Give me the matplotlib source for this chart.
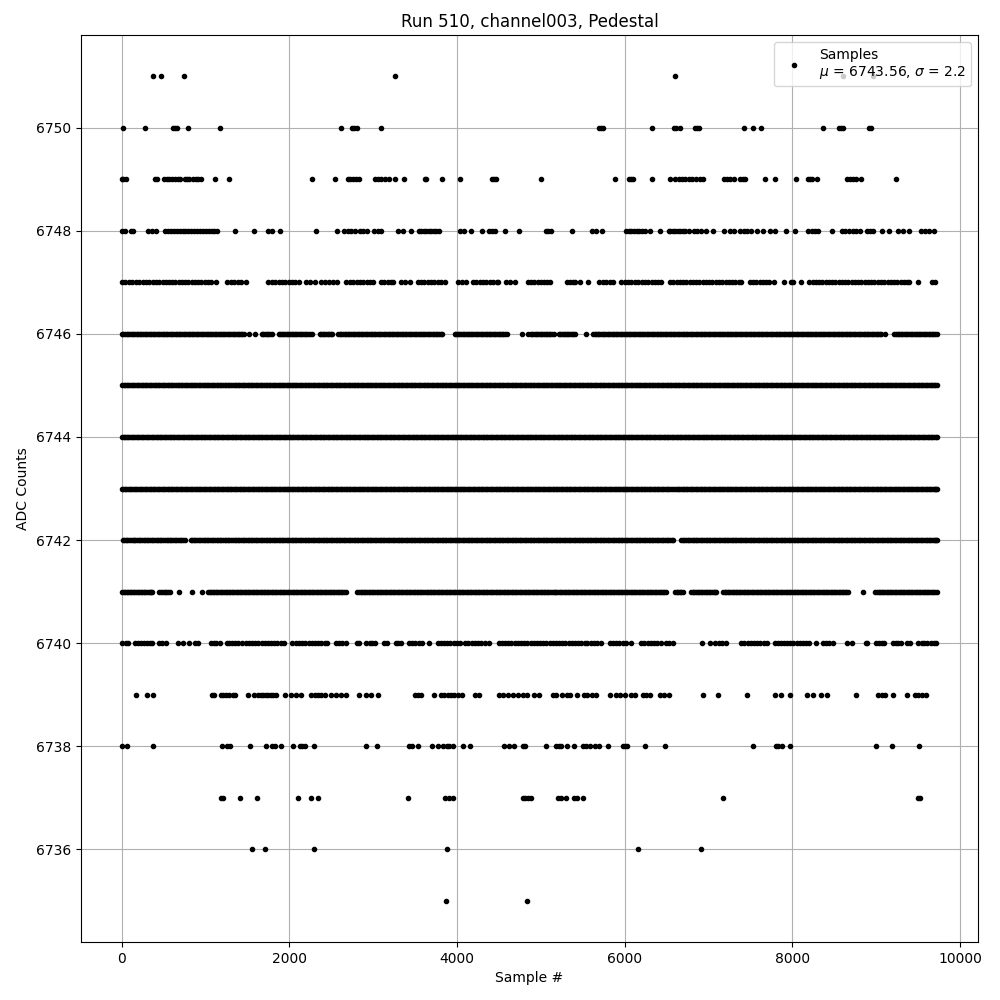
import numpy as np
import matplotlib
matplotlib.use("Agg")
import matplotlib.pyplot as plt

samples_6735 = [3865, 4829]
samples_6736 = [1555, 1710, 2294, 3877, 6155, 6905]
samples_6737 = [1178, 1210, 1413, 1615, 2103, 2258, 2341, 3412, 3853, 3908, 3948, 4781, 4813, 4849, 4887,
                5202, 5242, 5302, 5393, 5425, 5500, 7167, 9496, 9520]
samples_6738 = [5, 67, 377, 1194, 1258, 1290, 1532, 1718, 1786, 1833, 1900, 2044, 2123, 2155, 2182, 2294, 2913, 3043,
                3432, 3464, 3539, 3698, 3774, 3837, 3877, 3908, 3948, 4067, 4150, 4555, 4623, 4682, 4781, 4813,
                5056, 5179, 5214, 5242, 5314, 5393, 5500, 5532, 5591, 5639, 5690, 5798, 5976, 6008, 6028, 6238, 6476,
                7524, 7806, 7833, 7881, 7968, 9000, 9190, 9512]
samples_6739 = [167, 302, 369, 1071, 1099, 1178, 1205, 1242, 1282, 1321, 1349, 1508, 1575, 1627, 1660, 1686, 1716, 1746, 1775, 1805, 1845,
                1952, 2024, 2083, 2143, 2262, 2301, 2341, 2381, 2428, 2500, 2559, 2619, 2674, 2833, 2917, 2976, 3055,
                3492, 3531, 3571, 3722, 3809, 3849, 3889, 3928, 3968, 4008, 4059, 4218, 4258, 4504, 4551, 4603, 4662,
                4722, 4781, 4829, 4917, 4976, 5147, 5175, 5254, 5314, 5345, 5425, 5512, 5552, 5611, 5659, 5821,
                5901, 5948, 6000, 6079, 6127, 6214, 6254, 6305, 6425, 6464, 6532, 6929, 7107, 7452, 7794, 7861, 7976,
                8178, 8250, 8337, 8409, 8762, 9024, 9063, 9107, 9202, 9369, 9460, 9500, 9547, 9599]
samples_6740 = [8, 45, 75, 160, 195, 232, 270, 305, 340, 365, 445, 482, 525, 675, 726, 806, 878, 915, 1060, 1098, 1120, 1171,
                1250, 1285, 1320, 1355, 1385, 1440, 1480, 1515, 1555, 1590, 1630, 1668, 1705, 1745, 1780, 1820, 1855, 1895, 1935,
                2036, 2075, 2110, 2150, 2188, 2230, 2265, 2305, 2340, 2380, 2420, 2450, 2552, 2590, 2630, 2670, 2810, 2830,
                2917, 2955, 2990, 3025, 3127, 3168, 3266, 3300, 3325, 3424, 3462, 3500, 3540, 3582, 3670,
                3770, 3806, 3845, 3880, 3920, 3958, 3995, 4040, 4099, 4135, 4175, 4212, 4250, 4290, 4330, 4375,
                4496, 4535, 4570, 4610, 4648, 4685, 4725, 4760, 4800, 4835, 4877, 4915, 4950, 4990, 5030, 5065, 5105, 5140,
                5180, 5215, 5255, 5290, 5330, 5370, 5405, 5445, 5480, 5520, 5555, 5595, 5632, 5670, 5720, 5820, 5860, 5900,
                5935, 5975, 6020, 6079, 6198, 6235, 6275, 6312, 6350, 6390, 6434, 6488, 6525, 6572, 6921, 7012, 7079, 7118,
                7155, 7208, 7389, 7425, 7465, 7500, 7540, 7578, 7615, 7655, 7702, 7786, 7825, 7860, 7900, 7935, 7975, 8012,
                8050, 8090, 8125, 8160, 8192, 8278, 8361, 8400, 8440, 8478, 8647, 8714, 8877, 8895, 8996, 9035, 9070, 9093,
                9194, 9230, 9265, 9291, 9365, 9399, 9500, 9540, 9575, 9610, 9650, 9685, 9716]
samples_6741 = [3, 40, 78, 115, 150, 190, 228, 262, 300, 338, 365, 450, 490, 530, 570, 686, 837, 952, 1030, 1065, 1105, 1140,
                1180, 1220, 1255, 1295, 1330, 1370, 1410, 1445, 1485, 1520, 1560, 1600, 1635, 1675, 1712, 1750, 1790, 1825,
                1865, 1905, 1940, 1980, 2020, 2055, 2095, 2135, 2170, 2210, 2250, 2285, 2325, 2365, 2400, 2440, 2478, 2515,
                2555, 2595, 2630, 2680, 2810, 2850, 2885, 2925, 2965, 3000, 3040, 3080, 3115, 3155, 3195, 3230, 3270, 3310,
                3345, 3385, 3425, 3460, 3500, 3538, 3575, 3615, 3655, 3690, 3730, 3770, 3805, 3845, 3885, 3920, 3960, 4000,
                4035, 4075, 4115, 4150, 4190, 4230, 4265, 4305, 4345, 4380, 4420, 4460, 4495, 4535, 4575, 4610, 4650, 4690,
                4725, 4765, 4805, 4840, 4880, 4918, 4955, 4995, 5033, 5070, 5110, 5150, 5185, 5225, 5265, 5300, 5340, 5380,
                5415, 5455, 5495, 5530, 5570, 5610, 5645, 5685, 5725, 5760, 5800, 5838, 5875, 5915, 5955, 5990, 6030, 6070,
                6105, 6145, 6185, 6220, 6260, 6300, 6335, 6375, 6415, 6450, 6490, 6600, 6640, 6675, 6700, 6790, 6828, 6868,
                6905, 6945, 6985, 7020, 7060, 7090, 7170, 7208, 7245, 7285, 7325, 7360, 7400, 7440, 7475, 7515, 7555, 7590,
                7630, 7670, 7705, 7745, 7785, 7820, 7860, 7900, 7935, 7975, 8015, 8050, 8090, 8130, 8165, 8205, 8245, 8280,
                8320, 8360, 8395, 8435, 8475, 8510, 8550, 8590, 8625, 8660, 8837, 8990, 9030, 9065, 9105, 9145, 9180, 9220,
                9260, 9295, 9335, 9375, 9410, 9450, 9490, 9525, 9565, 9605, 9640, 9680, 9722]
samples_6741_more = [22, 60, 96, 132, 170, 210, 245, 282, 320, 352, 470, 510, 550, 1048, 1085, 1122, 1160, 1200, 1238, 1275, 1312,
                     1350, 1390, 1428, 1465, 1502, 1540, 1580, 1618, 1655, 1694, 1730, 1770, 1808, 1845, 1885, 1922, 1960, 2000,
                     2038, 2075, 2115, 2152, 2190, 2230, 2268, 2305, 2345, 2382, 2420, 2460, 2496, 2535, 2575, 2612, 2655,
                     2830, 2868, 2905, 2945, 2982, 3020, 3060, 3098, 3135, 3175, 3212, 3250, 3290, 3328, 3365, 3405, 3442, 3480,
                     3520, 3556, 3595, 3635, 3672, 3710, 3750, 3788, 3825, 3865, 3902, 3940, 3980, 4018, 4055, 4095, 4132, 4170,
                     4210, 4248, 4285, 4325, 4362, 4400, 4440, 4478, 4515, 4555, 4592, 4630, 4670, 4708, 4745, 4785, 4822, 4860,
                     4900, 4936, 4975, 5015, 5052, 5090, 5130, 5168, 5205, 5245, 5282, 5320, 5360, 5398, 5435, 5475, 5512, 5550,
                     5590, 5628, 5665, 5705, 5742, 5780, 5820, 5856, 5895, 5935, 5972, 6010, 6050, 6088, 6125, 6165, 6202, 6240,
                     6280, 6318, 6355, 6395, 6432, 6470, 6620, 6658, 6810, 6848, 6886, 6925, 6965, 7002, 7040, 7076, 7190, 7226,
                     7265, 7305, 7342, 7380, 7420, 7458, 7495, 7535, 7572, 7610, 7650, 7688, 7725, 7765, 7802, 7840, 7880, 7918,
                     7955, 7995, 8032, 8070, 8110, 8148, 8185, 8225, 8262, 8300, 8340, 8378, 8415, 8455, 8492, 8530, 8570, 8608,
                     8642, 9010, 9048, 9085, 9125, 9162, 9200, 9240, 9278, 9315, 9355, 9392, 9430, 9470, 9508, 9545, 9585, 9622,
                     9660, 9700]
samples_6742 = [12, 50, 85, 128, 162, 204, 240, 281, 318, 360, 395, 438, 472, 515, 552, 590, 632, 668, 710, 750, 820, 858,
                895, 938, 975, 1014, 1052, 1092, 1130, 1170, 1208, 1248, 1285, 1325, 1365, 1402, 1442, 1480, 1520, 1558, 1598,
                1635, 1675, 1715, 1752, 1792, 1830, 1870, 1908, 1948, 1985, 2025, 2065, 2102, 2142, 2180, 2220, 2258, 2298,
                2335, 2375, 2415, 2452, 2492, 2530, 2570, 2608, 2648, 2685, 2725, 2765, 2802, 2842, 2880, 2920, 2958, 2998,
                3035, 3075, 3115, 3152, 3192, 3230, 3270, 3308, 3348, 3385, 3425, 3465, 3502, 3542, 3580, 3620, 3658, 3698,
                3735, 3775, 3815, 3852, 3892, 3930, 3970, 4008, 4048, 4085, 4125, 4165, 4202, 4242, 4280, 4320, 4358, 4398,
                4435, 4475, 4515, 4552, 4592, 4630, 4670, 4708, 4748, 4785, 4825, 4865, 4902, 4942, 4980, 5020, 5058, 5098,
                5135, 5175, 5215, 5252, 5292, 5330, 5370, 5408, 5448, 5485, 5525, 5565, 5602, 5642, 5680, 5720, 5758, 5798,
                5835, 5875, 5915, 5952, 5992, 6030, 6070, 6108, 6148, 6185, 6225, 6265, 6302, 6342, 6380, 6420, 6458, 6498,
                6540, 6580, 6672, 6710, 6750, 6788, 6828, 6865, 6905, 6945, 6982, 7022, 7060, 7100, 7138, 7178, 7215, 7255,
                7295, 7332, 7372, 7410, 7450, 7488, 7528, 7565, 7605, 7645, 7682, 7722, 7760, 7800, 7838, 7878, 7915, 7955,
                7995, 8032, 8072, 8110, 8150, 8188, 8228, 8265, 8305, 8345, 8382, 8422, 8460, 8500, 8538, 8578, 8615, 8655,
                8695, 8732, 8772, 8810, 8850, 8888, 8928, 8965, 9005, 9045, 9082, 9122, 9160, 9200, 9238, 9278, 9315, 9355,
                9395, 9432, 9472, 9510, 9550, 9588, 9628, 9665, 9705, 9725]
samples_6742_more = [30, 68, 106, 145, 183, 222, 260, 300, 338, 378, 416, 455, 494, 534, 571, 611, 650, 689, 730, 838, 876, 916,
                     956, 994, 1033, 1072, 1111, 1150, 1189, 1228, 1266, 1305, 1345, 1383, 1422, 1461, 1500, 1539, 1578, 1616, 1655,
                     1695, 1733, 1772, 1811, 1850, 1889, 1928, 1966, 2005, 2045, 2083, 2122, 2161, 2200, 2239, 2278, 2316, 2355,
                     2395, 2433, 2472, 2511, 2550, 2589, 2628, 2666, 2705, 2745, 2783, 2822, 2861, 2900, 2939, 2978, 3016, 3055,
                     3095, 3133, 3172, 3211, 3250, 3289, 3328, 3366, 3405, 3445, 3483, 3522, 3561, 3600, 3639, 3678, 3716, 3755,
                     3795, 3833, 3872, 3911, 3950, 3989, 4028, 4066, 4105, 4145, 4183, 4222, 4261, 4300, 4339, 4378, 4416, 4455,
                     4495, 4533, 4572, 4611, 4650, 4689, 4728, 4766, 4805, 4845, 4883, 4922, 4961, 5000, 5039, 5078, 5116, 5155,
                     5195, 5233, 5272, 5311, 5350, 5389, 5428, 5466, 5505, 5545, 5583, 5622, 5661, 5700, 5739, 5778, 5816, 5855,
                     5895, 5933, 5972, 6011, 6050, 6089, 6128, 6166, 6205, 6245, 6283, 6322, 6361, 6400, 6439, 6478, 6519, 6560,
                     6690, 6730, 6769, 6808, 6846, 6885, 6925, 6963, 7002, 7041, 7080, 7119, 7158, 7196, 7235, 7275, 7313, 7352,
                     7391, 7430, 7469, 7508, 7546, 7585, 7625, 7663, 7702, 7741, 7780, 7819, 7858, 7896, 7935, 7975, 8013, 8052,
                     8091, 8130, 8169, 8208, 8246, 8285, 8325, 8363, 8402, 8441, 8480, 8519, 8558, 8596, 8635, 8675, 8713, 8752,
                     8791, 8830, 8869, 8908, 8946, 8985, 9025, 9063, 9102, 9141, 9180, 9219, 9258, 9296, 9335, 9375, 9413, 9452,
                     9491, 9530, 9569, 9608, 9646, 9685, 9716]
samples_6743 = [0, 36, 78, 112, 156, 192, 232, 275, 310, 352, 390, 428, 468, 505, 548, 585, 625, 662, 705, 742, 780, 822,
                860, 900, 938, 978, 1015, 1055, 1095, 1132, 1172, 1210, 1250, 1288, 1328, 1365, 1405, 1445, 1482, 1522, 1560,
                1600, 1638, 1678, 1715, 1755, 1795, 1832, 1872, 1910, 1950, 1988, 2028, 2065, 2105, 2145, 2182, 2222, 2260,
                2300, 2338, 2378, 2415, 2455, 2495, 2532, 2572, 2610, 2650, 2688, 2728, 2765, 2805, 2845, 2882, 2922, 2960,
                3000, 3038, 3078, 3115, 3155, 3195, 3232, 3272, 3310, 3350, 3388, 3428, 3465, 3505, 3545, 3582, 3622, 3660,
                3700, 3738, 3778, 3815, 3855, 3895, 3932, 3972, 4010, 4050, 4088, 4128, 4165, 4205, 4245, 4282, 4322, 4360,
                4400, 4438, 4478, 4515, 4555, 4595, 4632, 4672, 4710, 4750, 4788, 4828, 4865, 4905, 4945, 4982, 5022, 5060,
                5100, 5138, 5178, 5215, 5255, 5295, 5332, 5372, 5410, 5450, 5488, 5528, 5565, 5605, 5645, 5682, 5722, 5760,
                5800, 5838, 5878, 5915, 5955, 5995, 6032, 6072, 6110, 6150, 6188, 6228, 6265, 6305, 6345, 6382, 6422, 6460,
                6500, 6538, 6590, 6632, 6670, 6710, 6748, 6788, 6825, 6865, 6905, 6942, 6982, 7020, 7060, 7098, 7138, 7175,
                7215, 7255, 7292, 7332, 7370, 7410, 7448, 7488, 7525, 7565, 7605, 7642, 7682, 7720, 7760, 7798, 7838, 7875,
                7915, 7955, 7992, 8032, 8070, 8110, 8148, 8188, 8225, 8265, 8305, 8342, 8382, 8420, 8460, 8498, 8538, 8575,
                8615, 8655, 8692, 8732, 8770, 8810, 8848, 8888, 8925, 8965, 9005, 9042, 9082, 9120, 9160, 9198, 9238, 9275,
                9315, 9355, 9392, 9432, 9470, 9510, 9548, 9588, 9625, 9665, 9700, 9727]
samples_6743_more = [18, 56, 95, 134, 174, 212, 253, 292, 331, 371, 409, 448, 486, 526, 566, 605, 644, 683, 723, 761, 801, 841,
                     880, 919, 958, 996, 1035, 1075, 1113, 1152, 1191, 1230, 1269, 1308, 1346, 1385, 1425, 1463, 1502, 1541, 1580,
                     1619, 1658, 1696, 1735, 1775, 1813, 1852, 1891, 1930, 1969, 2008, 2046, 2085, 2125, 2163, 2202, 2241, 2280,
                     2319, 2358, 2396, 2435, 2475, 2513, 2552, 2591, 2630, 2669, 2708, 2746, 2785, 2825, 2863, 2902, 2941, 2980,
                     3019, 3058, 3096, 3135, 3175, 3213, 3252, 3291, 3330, 3369, 3408, 3446, 3485, 3525, 3563, 3602, 3641, 3680,
                     3719, 3758, 3796, 3835, 3875, 3913, 3952, 3991, 4030, 4069, 4108, 4146, 4185, 4225, 4263, 4302, 4341, 4380,
                     4419, 4458, 4496, 4535, 4575, 4613, 4652, 4691, 4730, 4769, 4808, 4846, 4885, 4925, 4963, 5002, 5041, 5080,
                     5119, 5158, 5196, 5235, 5275, 5313, 5352, 5391, 5430, 5469, 5508, 5546, 5585, 5625, 5663, 5702, 5741, 5780,
                     5819, 5858, 5896, 5935, 5975, 6013, 6052, 6091, 6130, 6169, 6208, 6246, 6285, 6325, 6363, 6402, 6441, 6480,
                     6519, 6560, 6611, 6651, 6690, 6729, 6768, 6806, 6845, 6885, 6923, 6962, 7001, 7040, 7079, 7118, 7156, 7195,
                     7235, 7273, 7312, 7351, 7390, 7429, 7468, 7506, 7545, 7585, 7623, 7662, 7701, 7740, 7779, 7818, 7856, 7895,
                     7935, 7973, 8012, 8051, 8090, 8129, 8168, 8206, 8245, 8285, 8323, 8362, 8401, 8440, 8479, 8518, 8556, 8595,
                     8635, 8673, 8712, 8751, 8790, 8829, 8868, 8906, 8945, 8985, 9023, 9062, 9101, 9140, 9179, 9218, 9256, 9295,
                     9335, 9373, 9412, 9451, 9490, 9529, 9568, 9606, 9645, 9683, 9714]
samples_6744 = [2, 42, 80, 118, 160, 197, 238, 280, 316, 355, 395, 436, 472, 512, 550, 590, 628, 668, 705, 745, 785, 822,
                862, 900, 940, 978, 1018, 1055, 1095, 1135, 1172, 1212, 1250, 1290, 1328, 1368, 1405, 1445, 1485, 1522, 1562,
                1600, 1640, 1678, 1718, 1755, 1795, 1835, 1872, 1912, 1950, 1990, 2028, 2068, 2105, 2145, 2185, 2222, 2262,
                2300, 2340, 2378, 2418, 2455, 2495, 2535, 2572, 2612, 2650, 2690, 2728, 2768, 2805, 2845, 2885, 2922, 2962,
                3000, 3040, 3078, 3118, 3155, 3195, 3235, 3272, 3312, 3350, 3390, 3428, 3468, 3505, 3545, 3585, 3622, 3662,
                3700, 3740, 3778, 3818, 3855, 3895, 3935, 3972, 4012, 4050, 4090, 4128, 4168, 4205, 4245, 4285, 4322, 4362,
                4400, 4440, 4478, 4518, 4555, 4595, 4635, 4672, 4712, 4750, 4790, 4828, 4868, 4905, 4945, 4985, 5022, 5062,
                5100, 5140, 5178, 5218, 5255, 5295, 5335, 5372, 5412, 5450, 5490, 5528, 5568, 5605, 5645, 5685, 5722, 5762,
                5800, 5840, 5878, 5918, 5955, 5995, 6035, 6072, 6112, 6150, 6190, 6228, 6268, 6305, 6345, 6385, 6422, 6462,
                6500, 6540, 6578, 6618, 6655, 6695, 6735, 6772, 6812, 6850, 6890, 6928, 6968, 7005, 7045, 7085, 7122, 7162,
                7200, 7240, 7278, 7318, 7355, 7395, 7435, 7472, 7512, 7550, 7590, 7628, 7668, 7705, 7745, 7785, 7822, 7862,
                7900, 7940, 7978, 8018, 8055, 8095, 8135, 8172, 8212, 8250, 8290, 8328, 8368, 8405, 8445, 8485, 8522, 8562,
                8600, 8640, 8678, 8718, 8755, 8795, 8835, 8872, 8912, 8950, 8990, 9028, 9068, 9105, 9145, 9185, 9222, 9262,
                9300, 9340, 9378, 9418, 9455, 9495, 9535, 9572, 9612, 9650, 9690, 9726]
samples_6744_more = [22, 61, 99, 139, 178, 218, 259, 298, 336, 375, 415, 454, 492, 531, 570, 609, 648, 686, 725, 765, 803, 842,
                     881, 920, 959, 998, 1036, 1075, 1115, 1153, 1192, 1231, 1270, 1309, 1348, 1386, 1425, 1465, 1503, 1542, 1581,
                     1620, 1659, 1698, 1736, 1775, 1815, 1853, 1892, 1931, 1970, 2009, 2048, 2086, 2125, 2165, 2203, 2242, 2281,
                     2320, 2359, 2398, 2436, 2475, 2515, 2553, 2592, 2631, 2670, 2709, 2748, 2786, 2825, 2865, 2903, 2942, 2981,
                     3020, 3059, 3098, 3136, 3175, 3215, 3253, 3292, 3331, 3370, 3409, 3448, 3486, 3525, 3565, 3603, 3642, 3681,
                     3720, 3759, 3798, 3836, 3875, 3915, 3953, 3992, 4031, 4070, 4109, 4148, 4186, 4225, 4265, 4303, 4342, 4381,
                     4420, 4459, 4498, 4536, 4575, 4615, 4653, 4692, 4731, 4770, 4809, 4848, 4886, 4925, 4965, 5003, 5042, 5081,
                     5120, 5159, 5198, 5236, 5275, 5315, 5353, 5392, 5431, 5470, 5509, 5548, 5586, 5625, 5665, 5703, 5742, 5781,
                     5820, 5859, 5898, 5936, 5975, 6015, 6053, 6092, 6131, 6170, 6209, 6248, 6286, 6325, 6365, 6403, 6442, 6481,
                     6520, 6559, 6598, 6636, 6675, 6715, 6753, 6792, 6831, 6870, 6909, 6948, 6986, 7025, 7065, 7103, 7142, 7181,
                     7220, 7259, 7298, 7336, 7375, 7415, 7453, 7492, 7531, 7570, 7609, 7648, 7686, 7725, 7765, 7803, 7842, 7881,
                     7920, 7959, 7998, 8036, 8075, 8115, 8153, 8192, 8231, 8270, 8309, 8348, 8386, 8425, 8465, 8503, 8542, 8581,
                     8620, 8659, 8698, 8736, 8775, 8815, 8853, 8892, 8931, 8970, 9009, 9048, 9086, 9125, 9165, 9203, 9242, 9281,
                     9320, 9359, 9398, 9436, 9475, 9515, 9553, 9592, 9631, 9670, 9708]
samples_6745 = [4, 40, 76, 120, 158, 194, 236, 272, 315, 352, 392, 430, 470, 508, 548, 585, 625, 665, 702, 742, 780, 820,
                858, 898, 935, 975, 1015, 1052, 1092, 1130, 1170, 1208, 1248, 1285, 1325, 1365, 1402, 1442, 1480, 1520, 1558,
                1598, 1635, 1675, 1715, 1752, 1792, 1830, 1870, 1908, 1948, 1985, 2025, 2065, 2102, 2142, 2180, 2220, 2258,
                2298, 2335, 2375, 2415, 2452, 2492, 2530, 2570, 2608, 2648, 2685, 2725, 2765, 2802, 2842, 2880, 2920, 2958,
                2998, 3035, 3075, 3115, 3152, 3192, 3230, 3270, 3308, 3348, 3385, 3425, 3465, 3502, 3542, 3580, 3620, 3658,
                3698, 3735, 3775, 3815, 3852, 3892, 3930, 3970, 4008, 4048, 4085, 4125, 4165, 4202, 4242, 4280, 4320, 4358,
                4398, 4435, 4475, 4515, 4552, 4592, 4630, 4670, 4708, 4748, 4785, 4825, 4865, 4902, 4942, 4980, 5020, 5058,
                5098, 5135, 5175, 5215, 5252, 5292, 5330, 5370, 5408, 5448, 5485, 5525, 5565, 5602, 5642, 5680, 5720, 5758,
                5798, 5835, 5875, 5915, 5952, 5992, 6030, 6070, 6108, 6148, 6185, 6225, 6265, 6302, 6342, 6380, 6420, 6458,
                6498, 6535, 6575, 6615, 6652, 6692, 6730, 6770, 6808, 6848, 6885, 6925, 6965, 7002, 7042, 7080, 7120, 7158,
                7198, 7235, 7275, 7315, 7352, 7392, 7430, 7470, 7508, 7548, 7585, 7625, 7665, 7702, 7742, 7780, 7820, 7858,
                7898, 7935, 7975, 8015, 8052, 8092, 8130, 8170, 8208, 8248, 8285, 8325, 8365, 8402, 8442, 8480, 8520, 8558,
                8598, 8635, 8675, 8715, 8752, 8792, 8830, 8870, 8908, 8948, 8985, 9025, 9065, 9102, 9142, 9180, 9220, 9258,
                9298, 9335, 9375, 9415, 9452, 9492, 9530, 9570, 9608, 9648, 9685, 9724]
samples_6745_more = [21, 58, 98, 138, 176, 215, 254, 294, 334, 372, 411, 450, 489, 528, 566, 605, 645, 684, 722, 761, 800, 839,
                     878, 917, 955, 995, 1033, 1072, 1111, 1150, 1189, 1228, 1266, 1305, 1345, 1383, 1422, 1461, 1500, 1539, 1578,
                     1616, 1655, 1695, 1733, 1772, 1811, 1850, 1889, 1928, 1966, 2005, 2045, 2083, 2122, 2161, 2200, 2239, 2278,
                     2316, 2355, 2395, 2433, 2472, 2511, 2550, 2589, 2628, 2666, 2705, 2745, 2783, 2822, 2861, 2900, 2939, 2978,
                     3016, 3055, 3095, 3133, 3172, 3211, 3250, 3289, 3328, 3366, 3405, 3445, 3483, 3522, 3561, 3600, 3639, 3678,
                     3716, 3755, 3795, 3833, 3872, 3911, 3950, 3989, 4028, 4066, 4105, 4145, 4183, 4222, 4261, 4300, 4339, 4378,
                     4416, 4455, 4495, 4533, 4572, 4611, 4650, 4689, 4728, 4766, 4805, 4845, 4883, 4922, 4961, 5000, 5039, 5078,
                     5116, 5155, 5195, 5233, 5272, 5311, 5350, 5389, 5428, 5466, 5505, 5545, 5583, 5622, 5661, 5700, 5739, 5778,
                     5816, 5855, 5895, 5933, 5972, 6011, 6050, 6089, 6128, 6166, 6205, 6245, 6283, 6322, 6361, 6400, 6439, 6478,
                     6516, 6555, 6595, 6633, 6672, 6711, 6750, 6789, 6828, 6866, 6905, 6945, 6983, 7022, 7061, 7100, 7139, 7178,
                     7216, 7255, 7295, 7333, 7372, 7411, 7450, 7489, 7528, 7566, 7605, 7645, 7683, 7722, 7761, 7800, 7839, 7878,
                     7916, 7955, 7995, 8033, 8072, 8111, 8150, 8189, 8228, 8266, 8305, 8345, 8383, 8422, 8461, 8500, 8539, 8578,
                     8616, 8655, 8695, 8733, 8772, 8811, 8850, 8889, 8928, 8966, 9005, 9045, 9083, 9122, 9161, 9200, 9239, 9278,
                     9316, 9355, 9395, 9433, 9472, 9511, 9550, 9589, 9628, 9666, 9705]
samples_6746 = [0, 38, 80, 118, 156, 196, 235, 272, 312, 350, 390, 428, 468, 505, 545, 585, 622, 662, 700, 740, 778, 818,
                855, 895, 935, 972, 1012, 1050, 1090, 1128, 1168, 1205, 1245, 1285, 1322, 1362, 1400, 1440, 1460, 1520, 1590,
                1670, 1710, 1750, 1790, 1870, 1908, 1948, 1985, 2025, 2065, 2102, 2142, 2180, 2220, 2270, 2360, 2398, 2438,
                2475, 2510, 2580, 2618, 2658, 2695, 2735, 2775, 2812, 2852, 2890, 2930, 2968, 3008, 3045, 3085, 3125, 3162,
                3202, 3240, 3280, 3318, 3358, 3395, 3435, 3475, 3512, 3552, 3590, 3630, 3668, 3708, 3745, 3785, 3820, 3970,
                4008, 4048, 4085, 4125, 4165, 4202, 4242, 4280, 4320, 4358, 4398, 4435, 4475, 4515, 4552, 4600, 4770, 4840,
                4880, 4918, 4958, 4995, 5035, 5075, 5112, 5155, 5210, 5250, 5290, 5325, 5365, 5410, 5540, 5620, 5660, 5698,
                5738, 5775, 5815, 5855, 5892, 5932, 5970, 6010, 6048, 6088, 6125, 6165, 6205, 6242, 6282, 6320, 6360, 6398,
                6438, 6475, 6515, 6555, 6592, 6632, 6670, 6710, 6748, 6788, 6825, 6865, 6905, 6942, 6982, 7020, 7060, 7098,
                7138, 7175, 7215, 7255, 7292, 7332, 7370, 7410, 7448, 7488, 7525, 7565, 7605, 7642, 7682, 7720, 7760, 7798,
                7838, 7875, 7915, 7955, 7992, 8032, 8070, 8110, 8148, 8188, 8225, 8265, 8305, 8342, 8382, 8420, 8460, 8498,
                8538, 8575, 8615, 8655, 8692, 8732, 8770, 8810, 8848, 8888, 8925, 8965, 9005, 9042, 9100, 9215, 9255, 9292,
                9332, 9370, 9410, 9448, 9488, 9525, 9565, 9605, 9642, 9682, 9720]
samples_6746_more = [19, 59, 99, 137, 176, 215, 254, 292, 331, 370, 409, 448, 486, 525, 565, 604, 642, 681, 720, 759, 798, 836,
                     875, 915, 953, 992, 1031, 1070, 1109, 1148, 1186, 1225, 1265, 1303, 1342, 1381, 1420, 1690, 1730, 1770, 1889,
                     1928, 1966, 2005, 2045, 2083, 2122, 2161, 2200, 2245, 2379, 2418, 2456, 2492, 2599, 2638, 2676, 2715, 2755,
                     2793, 2832, 2871, 2910, 2949, 2988, 3026, 3065, 3105, 3143, 3182, 3221, 3260, 3299, 3338, 3376, 3415, 3455,
                     3493, 3532, 3571, 3610, 3649, 3688, 3726, 3765, 3802, 3989, 4028, 4066, 4105, 4145, 4183, 4222, 4261, 4300,
                     4339, 4378, 4416, 4455, 4495, 4533, 4575, 4898, 4938, 4976, 5015, 5055, 5093, 5134, 5230, 5270, 5307, 5345,
                     5388, 5640, 5679, 5718, 5756, 5795, 5835, 5873, 5912, 5951, 5990, 6029, 6068, 6106, 6145, 6185, 6223, 6262,
                     6301, 6340, 6379, 6418, 6456, 6495, 6535, 6573, 6612, 6651, 6690, 6729, 6768, 6806, 6845, 6885, 6923, 6962,
                     7001, 7040, 7079, 7118, 7156, 7195, 7235, 7273, 7312, 7351, 7390, 7429, 7468, 7506, 7545, 7585, 7623, 7662,
                     7701, 7740, 7779, 7818, 7856, 7895, 7935, 7973, 8012, 8051, 8090, 8129, 8168, 8206, 8245, 8285, 8323, 8362,
                     8401, 8440, 8479, 8518, 8556, 8595, 8635, 8673, 8712, 8751, 8790, 8829, 8868, 8906, 8945, 8985, 9023, 9062,
                     9235, 9273, 9312, 9351, 9390, 9429, 9468, 9506, 9545, 9585, 9623, 9662, 9700]
samples_6747 = [3, 44, 82, 125, 170, 205, 250, 290, 330, 370, 410, 450, 488, 525, 565, 600, 640, 680, 718, 755, 795, 835,
                872, 912, 950, 990, 1030, 1070, 1120, 1260, 1300, 1340, 1385, 1425, 1480, 1750, 1790, 1830, 1870, 1910, 1950,
                1990, 2030, 2070, 2110, 2200, 2250, 2310, 2380, 2425, 2475, 2520, 2570, 2680, 2720, 2760, 2800, 2840, 2880,
                2920, 2960, 3000, 3090, 3130, 3175, 3210, 3240, 3330, 3375, 3440, 3530, 3570, 3610, 3650, 3690, 3730, 3770,
                3810, 3850, 4010, 4060, 4110, 4190, 4230, 4270, 4310, 4350, 4390, 4430, 4470, 4490, 4580, 4630, 4690, 4840,
                4880, 4920, 4960, 5000, 5040, 5075, 5105, 5310, 5350, 5385, 5410, 5468, 5560, 5690, 5735, 5775, 5820, 5860,
                5960, 6000, 6040, 6080, 6120, 6160, 6200, 6240, 6280, 6320, 6360, 6400, 6430, 6540, 6580, 6618, 6658, 6695,
                6735, 6775, 6812, 6852, 6890, 6930, 6968, 7008, 7045, 7085, 7125, 7162, 7202, 7240, 7280, 7318, 7358, 7390,
                7490, 7530, 7570, 7608, 7648, 7685, 7725, 7780, 7905, 7985, 8010, 8100, 8200, 8240, 8278, 8318, 8355, 8395,
                8435, 8472, 8512, 8550, 8590, 8628, 8668, 8705, 8745, 8785, 8822, 8862, 8900, 8940, 8978, 9018, 9055, 9095,
                9135, 9172, 9212, 9250, 9290, 9328, 9368, 9390, 9500, 9665, 9700]
samples_6748 = [0, 40, 107, 131, 317, 357, 409, 516, 550, 585, 620, 655, 690, 725, 760, 795, 830, 865, 900, 935, 970, 1005,
                1040, 1075, 1105, 1130, 1353, 1579, 1746, 1786, 1889, 2317, 2567, 2651, 2698, 2738, 2778, 2837, 2877,
                2924, 3008, 3055, 3087, 3293, 3353, 3452, 3543, 3570, 3600, 3630, 3660, 3690, 3720, 3750, 3781, 4031, 4087,
                4166, 4293, 4377, 4416, 4456, 4567, 4734, 5056, 5087, 5115, 5369, 5607, 5659, 5726, 6020, 6048, 6080,
                6111, 6143, 6175, 6206, 6238, 6305, 6417, 6524, 6544, 6570, 6600, 6630, 6660, 6690, 6720, 6762, 6821, 6861,
                6909, 6968, 7055, 7178, 7258, 7298, 7369, 7417, 7456, 7504, 7583, 7643, 7734, 7786, 7928, 8036, 8190, 8230,
                8270, 8310, 8476, 8587, 8627, 8679, 8718, 8758, 8805, 8885, 8925, 8964, 9071, 9150, 9262, 9313, 9393,
                9528, 9579, 9631, 9687]
samples_6749 = [0, 10, 50, 397, 417, 504, 536, 567, 599, 635, 675, 694, 754, 782, 806, 853, 885, 913, 940, 1115, 1282, 2270,
                2543, 2698, 2726, 2758, 2790, 2829, 3016, 3055, 3095, 3135, 3186, 3258, 3365, 3615, 3623, 3817, 4031,
                4412, 4440, 4464, 5000, 5881, 6056, 6079, 6103, 6321, 6544, 6603, 6643, 6683, 6722, 6762, 6802, 6849, 6901,
                6929, 7178, 7218, 7258, 7298, 7369, 7405, 7436, 7678, 7786, 8048, 8182, 8210, 8238, 8298, 8655, 8687,
                8718, 8758, 8821, 9238]
samples_6750 = [20, 282, 607, 639, 663, 794, 1175, 2615, 2742, 2774, 2805, 3091, 5694, 5718, 5742, 6321, 6583, 6607, 6655,
                6841, 6861, 6889, 7428, 7524, 7619, 8369, 8552, 8575, 8607, 8909, 8932]
samples_6751 = [377, 472, 746, 3258, 6595, 8607, 8964]

levels = {6735: samples_6735, 6736: samples_6736, 6737: samples_6737, 6738: samples_6738, 6739: samples_6739,
          6740: samples_6740, 6741: samples_6741 + samples_6741_more, 6742: samples_6742 + samples_6742_more,
          6743: samples_6743 + samples_6743_more, 6744: samples_6744 + samples_6744_more,
          6745: samples_6745 + samples_6745_more, 6746: samples_6746 + samples_6746_more,
          6747: samples_6747, 6748: samples_6748, 6749: samples_6749,
          6750: samples_6750, 6751: samples_6751}

x = np.concatenate([np.asarray(v, dtype=float) for v in levels.values()])
y = np.concatenate([np.full(len(v), k, dtype=float) for k, v in levels.items()])

fig, ax = plt.subplots(figsize=(10, 10), dpi=100)
ax.plot(x, y, 'k.', label='Samples\n$\\mu$ = 6743.56, $\\sigma$ = 2.2')
ax.set_title('Run 510, channel003, Pedestal')
ax.set_xlabel('Sample #')
ax.set_ylabel('ADC Counts')
ax.ticklabel_format(useOffset=False, style='plain', axis='y')
ax.grid(True)
ax.legend(loc='upper right')
fig.subplots_adjust(left=0.081, right=0.978, top=0.965, bottom=0.058)
fig.savefig('out.png', dpi=100)
